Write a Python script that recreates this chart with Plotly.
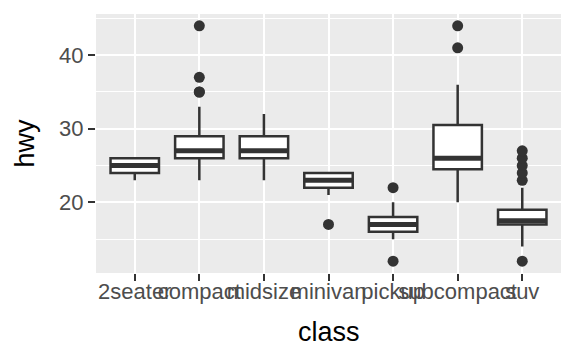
import plotly.graph_objects as go

classes = ["2seater", "compact", "midsize", "minivan", "pickup", "subcompact", "suv"]
q1 = [24, 26, 26, 22, 16, 24.5, 17]
median = [25, 27, 27, 23, 17, 26, 17.5]
q3 = [26, 29, 29, 24, 18, 30.5, 19]
lower = [23, 23, 23, 21, 15, 20, 14]
upper = [26, 33, 32, 24, 20, 36, 22]

outlier_class = ["compact", "compact", "compact", "compact", "minivan",
                 "pickup", "pickup", "subcompact", "subcompact",
                 "suv", "suv", "suv", "suv", "suv", "suv"]
outlier_hwy = [35, 37, 35, 44, 17,
               12, 22, 44, 41,
               12, 23, 24, 25, 26, 27]

y_ticks = [20, 30, 40]
y_minor = [15, 25, 35, 45]

LINE = "#333333"
BOX_W = 0.75
idx = list(range(len(classes)))

fig = go.Figure()
fig.add_trace(go.Box(
    x=idx, q1=q1, median=median, q3=q3, lowerfence=lower, upperfence=upper,
    width=BOX_W, fillcolor="white", line=dict(color=LINE, width=2.5),
    whiskerwidth=0, boxpoints=False, hoverinfo="skip", showlegend=False,
))

mx, my = [], []
for i, m in zip(idx, median):
    mx += [i - BOX_W / 2, i + BOX_W / 2, None]
    my += [m, m, None]
fig.add_trace(go.Scatter(x=mx, y=my, mode="lines",
                         line=dict(color=LINE, width=5), hoverinfo="skip",
                         showlegend=False))

fig.add_trace(go.Scatter(
    x=[classes.index(c) for c in outlier_class], y=outlier_hwy, mode="markers",
    marker=dict(color=LINE, size=11, line=dict(width=0)),
    hoverinfo="skip", showlegend=False))

fig.update_layout(
    width=576, height=355,
    margin=dict(l=96, r=15, t=14, b=82),
    paper_bgcolor="white", plot_bgcolor="#EBEBEB",
    font=dict(family="Liberation Sans, Arial, sans-serif"),
    showlegend=False,
    annotations=[
        dict(text="class", xref="paper", yref="paper", x=0.5, y=0,
             xanchor="center", yanchor="middle", yshift=-59, showarrow=False,
             font=dict(size=27, color="black")),
        dict(text="hwy", xref="paper", yref="paper", x=0, y=0.5,
             xanchor="center", yanchor="middle", xshift=-72, textangle=-90,
             showarrow=False, font=dict(size=27, color="black")),
    ],
)
fig.update_xaxes(
    range=[-0.6, 6.6], tickmode="array", tickvals=idx, ticktext=classes,
    tickangle=0, automargin=False, ticklabelstandoff=-8,
    showgrid=True, gridcolor="white", gridwidth=2.2, zeroline=False,
    ticks="outside", ticklen=7, tickwidth=2.2, tickcolor=LINE,
    tickfont=dict(size=22, color="#4D4D4D"),
    showline=False,
)
fig.update_yaxes(
    range=[10.4, 45.6], tickmode="array", tickvals=y_ticks,
    automargin=False,
    showgrid=True, gridcolor="white", gridwidth=2.2, zeroline=False,
    ticks="outside", ticklen=7, tickwidth=2.2, tickcolor=LINE,
    tickfont=dict(size=22, color="#4D4D4D"),
    minor=dict(tickvals=y_minor, showgrid=True, gridcolor="white", gridwidth=1.1, ticks=""),
    showline=False,
)

fig.write_html("out.html")
